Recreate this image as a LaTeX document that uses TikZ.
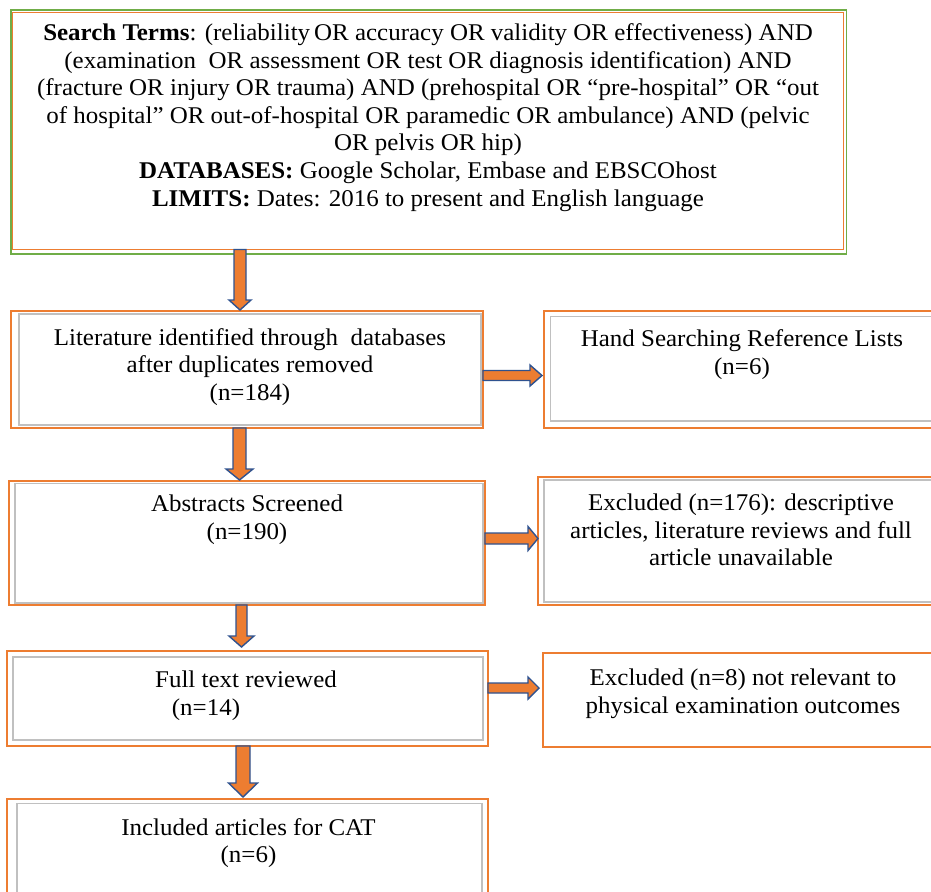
\documentclass[tikz,border=0pt]{standalone}
\usepackage{fontspec}
\setmainfont{Liberation Serif}[FakeStretch=1.04]
\usetikzlibrary{calc}
\definecolor{orng}{HTML}{ED7D31}
\definecolor{grn}{HTML}{70AD47}
\definecolor{ablue}{HTML}{2F528F}
\definecolor{lgray}{HTML}{C0C0C0}
\tikzset{
  obox/.style={draw=orng, line width=1.8pt, rectangle, inner sep=0pt, outer sep=0pt},
  ginner/.style={draw=lgray, line width=1.3pt},
  gframe/.style={draw=grn, line width=1.8pt},
  txt/.style={align=center, inner sep=0pt, font=\fontsize{24}{27.6}\selectfont},
  blk/.style={draw=ablue, fill=orng, line width=1.4pt, line join=miter},
}
% vertical block arrow: src, dst, x, shaft half, head half, head length, gap
\newcommand\vblk[7]{%
  \draw[blk] let \p1=(#1.south), \p2=(#2.north) in
  ({(#3-#4)*1pt},\y1) -- ({(#3+#4)*1pt},\y1)
  -- ({(#3+#4)*1pt},{\y2+(#7+#6)*1pt}) -- ({(#3+#5)*1pt},{\y2+(#7+#6)*1pt})
  -- ({#3*1pt},{\y2+#7*1pt})
  -- ({(#3-#5)*1pt},{\y2+(#7+#6)*1pt}) -- ({(#3-#4)*1pt},{\y2+(#7+#6)*1pt}) -- cycle;}
% horizontal block arrow: src, dst, y, shaft half, head half, head length, gap
\newcommand\hblk[7]{%
  \draw[blk] let \p1=(#1.east), \p2=(#2.west) in
  (\x1,{-(#3-#4)*1pt}) -- ({\x2-(#7+#6)*1pt},{-(#3-#4)*1pt})
  -- ({\x2-(#7+#6)*1pt},{-(#3-#5)*1pt}) -- ({\x2-#7*1pt},{-#3*1pt})
  -- ({\x2-(#7+#6)*1pt},{-(#3+#5)*1pt}) -- ({\x2-(#7+#6)*1pt},{-(#3+#4)*1pt})
  -- (\x1,{-(#3+#4)*1pt}) -- cycle;}
\begin{document}
\begin{tikzpicture}[x=1pt,y=-1pt]
\useasboundingbox (0,0) rectangle (931,891);
\clip (0,0) rectangle (931,891);
\fill[white] (0,0) rectangle (931,891);

% top box
\draw[gframe] (11,10) rectangle (846.5,254);
\node[obox, minimum width=831, minimum height=237] (top) at (428,131) {};
\node[txt] (ttop) at (428,117.5) {\textbf{Search Terms}: (reliability\,OR accuracy OR validity OR effectiveness) AND\\
(examination\ \ OR assessment OR test OR diagnosis identification) AND\\
(fracture OR injury OR trauma) AND (prehospital OR “pre-hospital” OR “out\\
of hospital” OR out-of-hospital OR paramedic OR ambulance) AND (pelvic\\
OR pelvis OR hip)\\
\textbf{DATABASES:} Google Scholar, Embase and EBSCOhost\\
\textbf{LIMITS:} Dates: 2016 to present and English language};

% boxes
\node[obox, minimum width=472, minimum height=117] (lit) at (247,369.5) {};
\draw[ginner] (19,314) rectangle (481,425);
\node[obox, minimum width=401, minimum height=117] (hand) at (744.5,369.5) {};
\draw[ginner] (550.5,316.5) rectangle (935,421);
\node[obox, minimum width=476, minimum height=124] (abs) at (247,543) {};
\draw[ginner] (15,483.5) rectangle (483,603);
\node[obox, minimum width=407, minimum height=128] (exa) at (741.5,541) {};
\draw[ginner] (544,480) rectangle (935,602);
\node[obox, minimum width=481, minimum height=95] (full) at (247.5,698.5) {};
\draw[ginner] (13,657) rectangle (483,740);
\node[obox, minimum width=402, minimum height=94] (exb) at (744,700) {};
\node[obox, minimum width=481, minimum height=106] (inc) at (247.5,852) {};
\draw[ginner] (17,803.5) rectangle (482,900);

% texts
\node[txt] (tlit) at (250,367) {Literature identified through\ \ databases\\after duplicates removed\\(n=184)};
\node[txt] (thand) at (742,354.5) {Hand Searching Reference Lists\\(n=6)};
\node[txt] (tabs) at (247,520) {Abstracts Screened\\(n=190)};
\node[txt] (texa) at (741,530) {Excluded (n=176): descriptive\\articles, literature reviews and full\\article unavailable};
\node[txt] (tfull) at (246,695.5) {Full text reviewed\\(n=14)\hbox to 80pt{}};
\node[txt] (texb) at (743,693.5) {Excluded (n=8) not relevant to\\physical examination outcomes};
\node[txt] (tinc) at (248.5,843) {Included articles for CAT\\(n=6)};

% arrows
\vblk{top}{lit}{240}{6}{11}{10}{1}
\vblk{lit}{abs}{239.5}{6.5}{13.5}{11}{1}
\vblk{abs}{full}{241.5}{5.5}{12.5}{11}{4}
\vblk{full}{inc}{243}{7}{14.5}{14}{2}
\hblk{lit}{hand}{375.5}{5}{10.5}{12}{2}
\hblk{abs}{exa}{538.5}{5.5}{12}{10}{0}
\hblk{full}{exb}{688}{5}{11}{11}{4}
\end{tikzpicture}
\end{document}
